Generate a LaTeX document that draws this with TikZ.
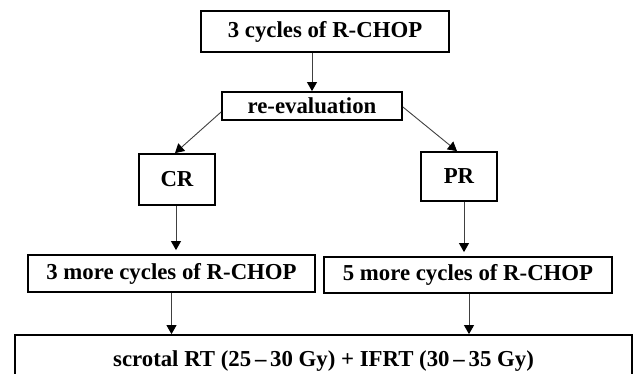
\documentclass[tikz,border=0pt]{standalone}
\usepackage{fontspec}
\setmainfont{Liberation Serif}
\usetikzlibrary{arrows.meta}
\begin{document}
\begin{tikzpicture}[x=1pt,y=-1pt,
  box/.style={draw=black, line width=1.8pt, inner sep=0pt, align=center,
    font=\fontsize{22.8}{27}\selectfont\bfseries},
  conn/.style={draw=black!75, line width=0.9pt,
    -{Triangle[width=10pt,length=9pt,fill=black,color=black]}}]
\useasboundingbox (0,0) rectangle (633,374);
\node[box, minimum width=248pt, minimum height=41pt] (b1) at (325,31.5) {3 cycles of R-CHOP};
\node[box, minimum width=180pt, minimum height=28pt] (b2) at (312,106) {re-evaluation};
\node[box, minimum width=76pt, minimum height=51pt] (cr) at (177,179.5) {CR};
\node[box, minimum width=76pt, minimum height=49pt] (pr) at (459,176.5) {PR};
\node[box, minimum width=287pt, minimum height=37pt] (m3) at (171.5,273.5) {3 more cycles of R-CHOP};
\node[box, minimum width=288pt, minimum height=36pt] (m5) at (468,275) {5 more cycles of R-CHOP};
\node[box, minimum width=617pt, minimum height=52pt] (bot) at (323.5,361) {scrotal RT (25\,–\,30 Gy) + IFRT (30\,–\,35 Gy)};
\draw[conn] (b1.south -| b2.north) -- (b2.north);
\draw[conn] ([yshift=-6pt]b2.west) -- ([xshift=-2pt]cr.north);
\draw[conn] ([yshift=-1pt]b2.east) -- ([xshift=-2pt]pr.north);
\draw[conn, shorten >=4pt] ([xshift=-1pt]cr.south) -- ([xshift=-1pt]cr.south |- m3.north);
\draw[conn, shorten >=4pt] ([xshift=5pt]pr.south) -- ([xshift=5pt]pr.south |- m5.north);
\draw[conn] (m3.south) -- (m3.south |- bot.north);
\draw[conn] ([xshift=1pt]m5.south) -- ([xshift=1pt]m5.south |- bot.north);
\end{tikzpicture}
\end{document}
